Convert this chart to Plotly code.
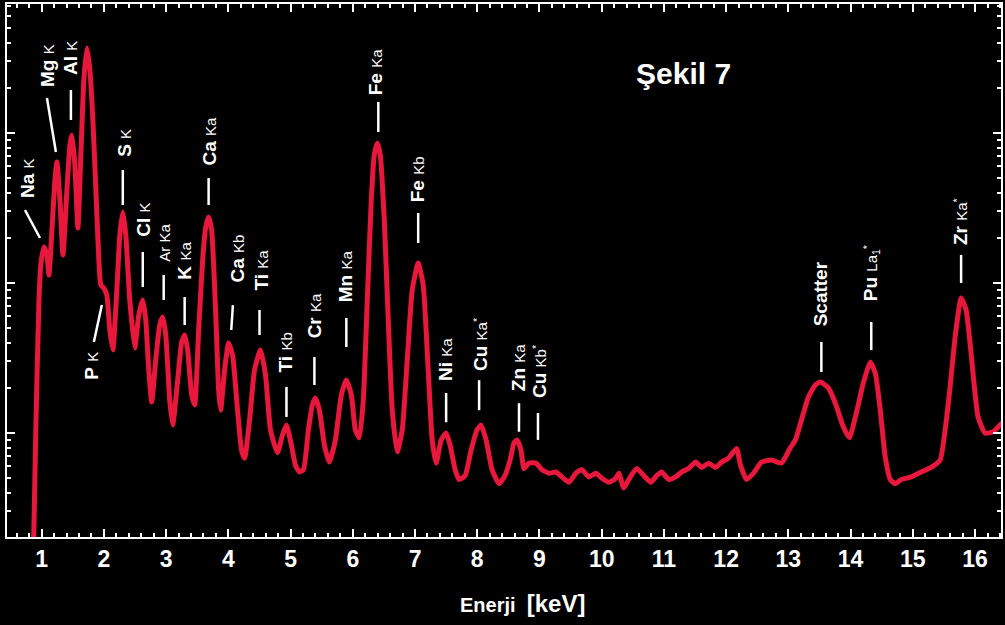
import math
import plotly.graph_objects as go

# ---------------- data ----------------
energy_kev = [0.861, 0.877, 0.909, 0.957, 0.989, 1.037, 1.085, 1.117, 1.165, 1.213,
              1.245, 1.294, 1.342, 1.406, 1.454, 1.486, 1.534, 1.582, 1.630, 1.678,
              1.727, 1.775, 1.823, 1.871, 1.919, 1.951, 1.999, 2.047, 2.095, 2.144,
              2.208, 2.256, 2.304, 2.352, 2.416, 2.496, 2.561, 2.625, 2.673, 2.721,
              2.769, 2.833, 2.897, 2.945, 2.994, 3.058, 3.106, 3.186, 3.250, 3.298,
              3.346, 3.411, 3.459, 3.523, 3.587, 3.635, 3.683, 3.731, 3.795, 3.844,
              3.876, 3.940, 4.004, 4.068, 4.148, 4.212, 4.261, 4.341, 4.421, 4.517,
              4.597, 4.677, 4.790, 4.870, 4.934, 5.014, 5.078, 5.143, 5.207, 5.287,
              5.351, 5.399, 5.463, 5.544, 5.624, 5.720, 5.816, 5.896, 5.977, 6.041,
              6.105, 6.169, 6.233, 6.297, 6.345, 6.394, 6.442, 6.506, 6.570, 6.634,
              6.714, 6.795, 6.875, 6.955, 7.051, 7.131, 7.212, 7.276, 7.340, 7.420,
              7.500, 7.564, 7.645, 7.709, 7.805, 7.901, 7.997, 8.062, 8.142, 8.238,
              8.350, 8.446, 8.527, 8.591, 8.639, 8.703, 8.751, 8.831, 8.944, 9.040,
              9.152, 9.264, 9.361, 9.473, 9.585, 9.681, 9.794, 9.906, 10.002, 10.114,
              10.227, 10.275, 10.355, 10.435, 10.563, 10.676, 10.788, 10.884, 10.964, 11.077,
              11.189, 11.285, 11.397, 11.510, 11.606, 11.718, 11.830, 11.927, 12.039, 12.167,
              12.231, 12.328, 12.440, 12.568, 12.729, 12.889, 12.953, 13.033, 13.114, 13.210,
              13.322, 13.434, 13.514, 13.643, 13.755, 13.883, 13.980, 14.092, 14.204, 14.316,
              14.397, 14.477, 14.557, 14.637, 14.717, 14.814, 14.974, 15.134, 15.295, 15.439,
              15.519, 15.599, 15.680, 15.776, 15.856, 15.936, 16.048, 16.161, 16.289, 16.401,
              16.449]

counts = [14, 25, 122, 770, 1359, 1738, 1537, 1131, 2256, 4862,
          6407, 3575, 1537, 4169, 8318, 9697, 6119, 2326, 7134, 22560,
          36870, 26300, 12210, 4169, 1424, 970, 926, 832, 486, 358,
          898, 2089, 2974, 2089, 770, 369, 612, 770, 567, 263,
          161, 307, 525, 593, 450, 166, 113, 226, 404, 450,
          358, 179, 154, 486, 1424, 2326, 2754, 2256, 661, 193,
          142, 263, 398, 331, 142, 77, 68, 122, 263, 358,
          244, 105, 74, 97, 113, 83, 61, 55, 57, 105,
          154, 171, 142, 83, 64, 90, 179, 226, 179, 105,
          93, 166, 770, 3575, 7134, 8577, 7134, 2630, 567, 142,
          75, 105, 307, 898, 1359, 970, 263, 90, 63, 90,
          100, 83, 57, 49, 52, 77, 105, 113, 90, 57,
          46, 52, 66, 86, 90, 77, 58, 63, 63, 57,
          54, 55, 51, 47, 54, 57, 51, 54, 50, 47,
          50, 54, 43, 49, 58, 52, 47, 52, 55, 49,
          51, 55, 58, 64, 59, 63, 59, 64, 68, 79,
          61, 49, 54, 64, 66, 63, 69, 80, 90, 122,
          174, 209, 219, 200, 158, 110, 93, 136, 215, 297,
          251, 142, 69, 49, 46, 49, 51, 55, 59, 66,
          105, 203, 437, 794, 661, 341, 128, 100, 102, 113,
          118]

x_tick_values = list(range(1, 17))
x_tick_labels = [str(v) for v in x_tick_values]

# peak labels: element (bold), line (small), text centre (keV, counts)
label_element = ["Na", "Mg", "Al", "P", "S", "Cl", "", "K", "Ca", "Ca", "Ti", "Ti",
                 "Cr", "Mn", "Fe", "Fe", "Ni", "Cu", "Zn", "Cu", "Scatter", "Pu", "Zr"]
label_line = ["K", "K", "K", "K", "K", "K", "Ar Ka", "Ka", "Ka", "Kb", "Ka", "Kb",
              "Ka", "Ka", "Ka", "Kb", "Ka", "Ka<sup>*</sup>", "Ka", "Kb<sup>*</sup>", "",
              "La<sub>1</sub><sup>*</sup>", "Ka<sup>*</sup>"]
label_text_x = [0.764, 1.085, 1.454, 1.807, 2.320, 2.625, 2.977, 3.298, 3.699, 4.132,
                4.533, 4.934, 5.399, 5.896, 6.378, 7.035, 7.500, 8.045, 8.655, 8.992,
                13.514, 14.332, 15.776]
label_text_y = [5012, 28380, 31620, 280, 8570, 2630, 1849, 1403, 8850, 1445,
                1222, 347, 603, 1114, 25530, 4932, 307, 386, 275, 259,
                845, 1167, 2553]
# leader line from (x_top, y_top) to (x_bottom, y_bottom)
leader_x_top = [0.732, 1.085, 1.470, 1.967, 2.304, 2.625, 2.961, 3.298, 3.683, 4.073,
                4.501, 4.934, 5.383, 5.896, 6.410, 7.051, 7.500, 8.030, 8.671, 8.976,
                13.530, 14.332, 15.776]
leader_y_top = [3069, 17100, 19360, 713, 5662, 1611, 1130, 807, 5012, 713,
                661, 203, 321, 585, 16110, 2931, 185, 225, 158, 136,
                405, 550, 1538]
leader_x_bot = [0.973, 1.229, 1.470, 1.839, 2.304, 2.625, 2.961, 3.298, 3.683, 4.047,
                4.501, 4.934, 5.383, 5.896, 6.410, 7.051, 7.500, 8.030, 8.671, 8.976,
                13.530, 14.332, 15.776]
leader_y_bot = [1995, 7464, 12220, 405, 3311, 940, 771, 525, 3311, 486,
                450, 128, 209, 374, 10160, 1849, 118, 142, 102, 90,
                255, 357, 1000]

title_text = "Şekil 7"
x_title_text = "Enerji"
x_unit_text = "[keV]"

# ---------------- figure ----------------
fig = go.Figure()

fig.add_trace(go.Scatter(
    x=energy_kev, y=counts, mode="lines",
    line=dict(color="#E8173C", width=5, shape="spline", smoothing=0.5),
    hoverinfo="skip",
))

lx, ly = [], []
for xt, yt, xb, yb in zip(leader_x_top, leader_y_top, leader_x_bot, leader_y_bot):
    lx += [xt, xb, None]
    ly += [yt, yb, None]
fig.add_trace(go.Scatter(x=lx, y=ly, mode="lines",
                         line=dict(color="white", width=2.5), hoverinfo="skip"))

FONT = "Liberation Sans, Arial, sans-serif"
for el, ln, tx, ty in zip(label_element, label_line, label_text_x, label_text_y):
    if el == "":
        txt = f"<span style='font-size:15px'>{ln}</span>"
    elif ln == "":
        txt = f"<b>{el}</b>"
    else:
        txt = f"<b>{el}</b> <span style='font-size:15px'>{ln}</span>"
    fig.add_annotation(x=tx, y=math.log10(ty), xref="x", yref="y", text=txt,
                       textangle=-90, showarrow=False, xanchor="center", yanchor="middle",
                       font=dict(family=FONT, size=19, color="white"))

fig.add_annotation(x=0.681, y=0.870, xref="paper", yref="paper",
                   text=f"<b>{title_text}</b>", showarrow=False,
                   xanchor="center", yanchor="middle",
                   font=dict(family=FONT, size=30, color="white"))
fig.add_annotation(x=0.5186, y=-0.124, xref="paper", yref="paper",
                   text=f"<b>{x_title_text}</b>&nbsp;&nbsp;<b><span style='font-size:24px'>{x_unit_text}</span></b>",
                   showarrow=False, xanchor="center", yanchor="middle",
                   font=dict(family=FONT, size=20, color="white"))

fig.update_layout(
    width=1005, height=625,
    margin=dict(l=7, r=2, t=4, b=88),
    paper_bgcolor="black", plot_bgcolor="black",
    showlegend=False,
)
fig.update_xaxes(
    range=[0.443, 16.417], tickvals=x_tick_values, ticktext=x_tick_labels,
    ticks="inside", ticklen=8, tickwidth=2, tickcolor="white",
    showline=True, linecolor="white", linewidth=2, mirror="allticks",
    showgrid=False, zeroline=False,
    minor=dict(dtick=0.2, tick0=0, ticks="inside", ticklen=4, tickwidth=1.5,
               tickcolor="white", showgrid=False),
    tickfont=dict(family=FONT, size=23, color="white", weight="bold"),
    ticklabelstandoff=0,
)
fig.update_yaxes(
    type="log", range=[1.307, 4.86], dtick=1, showticklabels=False,
    ticks="inside", ticklen=8, tickwidth=2, tickcolor="white",
    showline=True, linecolor="white", linewidth=2, mirror="allticks",
    showgrid=False, zeroline=False,
    minor=dict(dtick="D1", ticks="inside", ticklen=4, tickwidth=1.5,
               tickcolor="white", showgrid=False),
)

fig.write_html("out.html", config={"displayModeBar": False},
               post_script="document.body.style.margin='0';document.body.style.overflow='hidden';")
